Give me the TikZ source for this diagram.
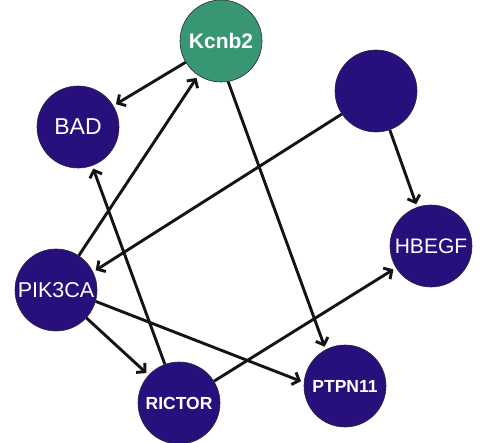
\documentclass[tikz,border=0pt]{standalone}
\usepackage{fontspec}
\setmainfont{Liberation Sans}
\usetikzlibrary{arrows.meta}
\definecolor{genefill}{RGB}{40,16,124}
\definecolor{seedfill}{RGB}{56,150,114}
\definecolor{rimcol}{RGB}{40,40,60}
\definecolor{edgecol}{RGB}{20,20,20}
\begin{document}
\begin{tikzpicture}[x=1pt,y=-1pt,
  gene/.style={circle, fill=genefill, draw=rimcol, line width=0.6pt,
    minimum size=82pt, inner sep=0pt, text=white},
  seed/.style={gene, fill=seedfill},
  link/.style={draw=edgecol, line width=2.9pt,
    -{Straight Barb[length=6pt,width=13pt]}, shorten >=3pt}]
\useasboundingbox (0,0) rectangle (486,442);

% gene nodes
\node[seed, font=\bfseries\fontsize{21}{21}\selectfont] (kcnb2) at (221,41) {Kcnb2};
\node[gene, font=\fontsize{23}{23}\selectfont] (bad) at (78,127) {BAD};
\node[gene] (unk) at (376,91) {};
\node[gene, font=\fontsize{21}{21}\selectfont] (hbegf) at (431,246) {HBEGF};
\node[gene, font=\fontsize{21.5}{21.5}\selectfont] (pik3ca) at (56,290) {PIK3CA};
\node[gene, font=\bfseries\fontsize{17.5}{17.5}\selectfont] (rictor) at (179,403) {RICTOR};
\node[gene, font=\bfseries\fontsize{17.5}{17.5}\selectfont] (ptpn11) at (345,386) {PTPN11};

% interactions
\draw[link] (kcnb2) -- (bad);
\draw[link] (pik3ca) -- (kcnb2);
\draw[link] (kcnb2.-80) -- (ptpn11.118);
\draw[link] (unk) -- (hbegf);
\draw[link] (unk.214) -- (pik3ca.26);
\draw[link] (pik3ca) -- (rictor);
\draw[link] (pik3ca.-16) -- (ptpn11.175);
\draw[link] (rictor) -- (bad);
\draw[link] (rictor) -- (hbegf);
\end{tikzpicture}
\end{document}
